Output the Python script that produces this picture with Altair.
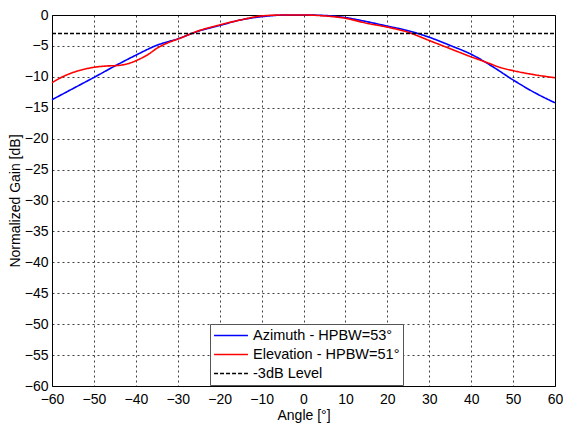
import altair as alt
import pandas as pd

# Azimuth (blue)
az_angle = [-60, -55, -50, -45, -40, -35, -30, -25, -20, -15, -10, -5, 0, 5, 10, 15, 20, 25, 30, 35, 40, 45, 50, 55, 60]
az_gain = [-13.7, -11.9, -10.1, -8.25, -6.5, -4.9, -3.85, -2.6, -1.7, -0.8, -0.27, -0.02, 0.0, -0.08, -0.42, -1.06, -1.8, -2.54, -3.6, -4.92, -6.35, -8.3, -10.5, -12.5, -14.2]

# Elevation (red)
el_angle = [-60, -57.5, -55, -52.5, -50, -47, -44, -42, -40, -37, -35, -32, -30, -25, -20, -15, -10, -5, 0, 5, 10, 15, 20, 25, 30, 35, 40, 43.7, 47, 50, 55, 60]
el_gain = [-10.95, -10.0, -9.3, -8.8, -8.46, -8.25, -8.15, -7.9, -7.4, -6.35, -5.4, -4.4, -3.9, -2.55, -1.6, -0.8, -0.15, 0.0, 0.0, -0.15, -0.53, -1.32, -1.96, -2.8, -4.13, -5.45, -6.77, -7.67, -8.5, -9.0, -9.65, -10.15]

# -3 dB reference
ref_angle = [-60, 60]
ref_gain = [-3, -3]

names = ["Azimuth - HPBW=53°", "Elevation - HPBW=51°", "-3dB Level"]
colors = ["#0000ff", "#ff0000", "#000000"]
dashes = [[1, 0], [1, 0], [4, 2]]

rows = []
for a, g in zip(az_angle, az_gain):
    rows.append({"angle": a, "gain": g, "series": names[0], "order": 0})
for a, g in zip(el_angle, el_gain):
    rows.append({"angle": a, "gain": g, "series": names[1], "order": 1})
for a, g in zip(ref_angle, ref_gain):
    rows.append({"angle": a, "gain": g, "series": names[2], "order": 2})
df = pd.DataFrame(rows)

FONT = "Liberation Sans"

legend = alt.Legend(title=None, orient="none", legendX=158, legendY=309,
                    symbolType="stroke", symbolSize=1150,
                    symbolStrokeWidth=1.5, labelFontSize=14.5,
                    labelFont=FONT, labelColor="black",
                    fillColor="white", strokeColor="#555555",
                    padding=3, rowPadding=2, labelLimit=300,
                    labelOffset=4, clipHeight=17)

chart = alt.Chart(df).mark_line(strokeWidth=1.6, interpolate="monotone").encode(
    x=alt.X("angle:Q",
            scale=alt.Scale(domain=[-60, 60], nice=False, zero=False),
            axis=alt.Axis(values=list(range(-60, 61, 10)), title="Angle [°]")),
    y=alt.Y("gain:Q",
            scale=alt.Scale(domain=[-60, 0], nice=False, zero=False),
            axis=alt.Axis(values=list(range(-60, 1, 5)), title="Normalized Gain [dB]")),
    color=alt.Color("series:N",
                    scale=alt.Scale(domain=names, range=colors),
                    legend=legend),
    strokeDash=alt.StrokeDash("series:N",
                              scale=alt.Scale(domain=names, range=dashes),
                              legend=legend),
    detail="series:N",
    order="order:Q",
).properties(
    width=503,
    height=371,
    padding={"left": 44, "top": 7, "right": 8, "bottom": 37},
    autosize=alt.AutoSizeParams(type="none"),
    background="white",
).configure_view(
    stroke="black", strokeWidth=1
).configure_axis(
    grid=True, gridColor="#000000", gridDash=[2, 3], gridOpacity=0.75, gridWidth=1,
    domain=False, ticks=False, labelFlush=False,
    labelFont=FONT, labelFontSize=14, labelColor="black",
    titleFont=FONT, titleFontSize=14, titleColor="black", titleFontWeight="normal",
).configure_axisX(
    labelPadding=6, titlePadding=2
).configure_axisY(
    labelPadding=4, titlePadding=2
)

chart.save("out.html", embed_options={"renderer": "svg", "actions": False})
